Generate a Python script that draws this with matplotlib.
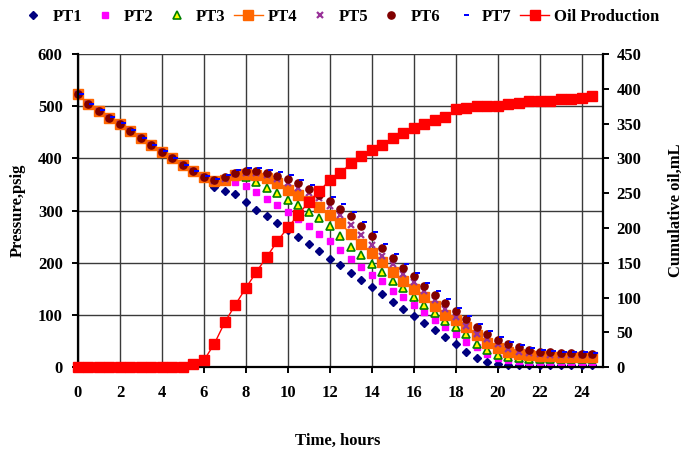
import matplotlib
matplotlib.use("Agg")
import matplotlib.pyplot as plt
from matplotlib.path import Path

plt.rcParams['font.family'] = ['Liberation Serif', 'DejaVu Serif']
plt.rcParams['font.weight'] = 'bold'
plt.rcParams['font.size'] = 12

time_h = [0, 0.5, 1, 1.5, 2, 2.5, 3, 3.5, 4, 4.5, 5, 5.5, 6, 6.5, 7, 7.5, 8, 8.5, 9, 9.5,
          10, 10.5, 11, 11.5, 12, 12.5, 13, 13.5, 14, 14.5, 15, 15.5, 16, 16.5, 17, 17.5,
          18, 18.5, 19, 19.5, 20, 20.5, 21, 21.5, 22, 22.5, 23, 23.5, 24, 24.5]

pt1 = [523, 504, 491, 478, 466, 453, 439, 425, 413, 400, 387, 375,
       362, 345, 338, 332, 317, 302, 289, 277, 263, 250, 237, 223, 208, 195, 181, 168,
       154, 141, 126, 112, 98, 85, 71, 58, 45, 30, 17, 10, 6, 5, 5, 5, 5, 5, 5, 5, 5, 5]
pt2 = [523, 504, 491, 478, 466, 453, 439, 425, 413, 400, 387, 375,
       364, 357, 358, 354, 348, 335, 323, 310, 297, 284, 271, 256, 241, 225, 208, 193,
       177, 165, 147, 134, 120, 106, 91, 77, 63, 49, 39, 26, 18, 14, 12, 11, 10, 10, 10, 10, 10, 10]
pt3 = [523, 504, 491, 478, 466, 453, 439, 425, 413, 400, 387, 375,
       364, 357, 358, 366, 364, 355, 343, 333, 320, 311, 298, 285, 270, 251, 230, 216,
       197, 182, 166, 151, 134, 119, 104, 88, 77, 63, 45, 34, 24, 20, 18, 16, 15, 15, 15, 15, 15, 15]
pt4 = [523, 504, 491, 478, 466, 453, 439, 425, 413, 400, 387, 375,
       364, 356, 358, 368, 370, 368, 362, 352, 340, 330, 318, 307, 292, 276, 255, 236,
       218, 201, 183, 165, 150, 134, 117, 101, 90, 77, 61, 47, 37, 29, 26, 24, 22, 21, 20, 19, 19, 19]
pt5 = [523, 504, 491, 478, 466, 453, 439, 425, 413, 400, 387, 375,
       364, 357, 360, 370, 372, 372, 368, 361, 352, 343, 334, 324, 308, 291, 273, 254,
       235, 214, 197, 179, 163, 147, 129, 112, 96, 80, 64, 54, 44, 35, 30, 27, 25, 24, 24, 24, 23, 23]
pt6 = [523, 504, 491, 478, 466, 453, 439, 425, 413, 400, 387, 375,
       365, 358, 364, 372, 376, 376, 372, 367, 361, 352, 341, 330, 319, 304, 289, 270,
       251, 229, 210, 190, 174, 155, 139, 124, 108, 93, 77, 64, 53, 44, 38, 33, 30, 29, 27, 27, 26, 25]
pt7 = [524, 505, 492, 479, 467, 454, 440, 426, 414, 401, 388, 376,
       366, 361, 368, 377, 381, 382, 378, 374, 368, 359, 349, 338, 327, 312, 297, 278,
       259, 236, 217, 197, 181, 162, 146, 131, 114, 99, 83, 69, 58, 48, 42, 37, 34, 32, 30, 30, 29, 28]
oil_ml = [0, 0, 0, 0, 0, 0, 0, 0, 0, 1, 1, 5,
          10, 34, 65, 90, 114, 137, 159, 181, 201, 219, 238, 253, 269, 279, 293, 303,
          312, 320, 329, 337, 343, 350, 355, 359, 371, 373, 375, 376, 376, 378, 380, 382,
          382, 383, 385, 386, 387, 389]

x_ticks = [0, 2, 4, 6, 8, 10, 12, 14, 16, 18, 20, 22, 24]
p_ticks = [0, 100, 200, 300, 400, 500, 600]
oil_ticks = [0, 50, 100, 150, 200, 250, 300, 350, 400, 450]

W, H = 685, 455
fig = plt.figure(figsize=(W / 100, H / 100), dpi=100)
left, right, top, bottom = 78, 602.7, 54, 367.3
ax = fig.add_axes([left / W, 1 - bottom / H, (right - left) / W, (bottom - top) / H])
ax.set_xlim(0, 25)
ax.set_ylim(0, 600)

# dash marker slightly right of centre
dash = Path([(0.2, -0.22), (1.0, -0.22), (1.0, 0.22), (0.2, 0.22), (0.2, -0.22)],
            [Path.MOVETO, Path.LINETO, Path.LINETO, Path.LINETO, Path.CLOSEPOLY])

ax.plot(time_h, pt1, ls='none', marker='D', ms=4.2, color='#000080', mec='#000080', label='PT1', clip_on=False)
ax.plot(time_h, pt2, ls='none', marker='s', ms=4.6, color='#FF00FF', mec='#FF00FF', label='PT2', clip_on=False)
ax.plot(time_h, pt3, ls='none', marker='^', ms=6, mfc='#FFFF00', mec='#008000', mew=1.2, label='PT3', clip_on=False)
ax.plot(time_h, pt4, ls='-', lw=1, color='#FF6600', marker='s', ms=7, mec='#FF6600', label='PT4', clip_on=False)
ax.plot(time_h, pt5, ls='none', marker='x', ms=4.2, mew=1.6, color='#993399', label='PT5', clip_on=False)
ax.plot(time_h, pt6, ls='none', marker='o', ms=5.2, color='#800000', mec='#800000', label='PT6', clip_on=False)
ax.plot(time_h, pt7, ls='none', marker=dash, ms=8, color='#0000FF', mew=0, label='PT7', clip_on=False)

ax2 = ax.twinx()
ax2.set_ylim(0, 450)
ax2.plot(time_h, oil_ml, ls='-', lw=1, color='#FF0000', marker='s', ms=7.4, mec='#FF0000',
         label='Oil Production', clip_on=False)

ax.set_xticks(x_ticks)
ax.set_yticks(p_ticks)
ax2.set_yticks(oil_ticks)

ax.grid(True, color='#3a3a3a', lw=1.0)
ax.set_axisbelow(True)
for t in ax.yaxis.get_major_ticks():
    if abs(t.get_loc() - 600) < 1e-6:
        t.gridline.set_visible(False)

for a in (ax, ax2):
    a.spines['top'].set_visible(False)
    for s in ('left', 'right', 'bottom'):
        a.spines[s].set_linewidth(1.6)
        a.spines[s].set_color('black')
ax.spines['right'].set_visible(False)
ax2.spines['left'].set_visible(False)
ax2.spines['bottom'].set_visible(False)

ax.tick_params(axis='x', direction='out', length=4, width=1.4, pad=9, labelsize=12)
ax.tick_params(axis='y', direction='out', length=4, width=1.4, pad=7, labelsize=12)
ax2.tick_params(axis='y', direction='out', length=4, width=1.4, pad=6, labelsize=12)
for lab in ax.get_xticklabels() + ax.get_yticklabels() + ax2.get_yticklabels():
    lab.set_fontweight('bold')

fig.text(18 / W, 1 - 210 / H, 'Pressure,psig', rotation=90, ha='center', va='center',
         fontsize=12, fontweight='bold')
fig.text(676 / W, 1 - 210 / H, 'Cumulative oil,mL', rotation=90, ha='center', va='center',
         fontsize=12, fontweight='bold')
fig.text(338 / W, 1 - 441 / H, 'Time, hours', ha='center', va='center',
         fontsize=12, fontweight='bold')

h1, l1 = ax.get_legend_handles_labels()
h2, l2 = ax2.get_legend_handles_labels()
fig.legend(h1 + h2, l1 + l2, loc='center', bbox_to_anchor=(339 / W, 1 - 17 / H), ncol=8,
           frameon=False, handlelength=1.74, handletextpad=0.28, columnspacing=0.5,
           borderpad=0.1, borderaxespad=0,
           prop={'family': 'Liberation Serif', 'weight': 'bold', 'size': 12})

fig.savefig('out.png', dpi=100)
